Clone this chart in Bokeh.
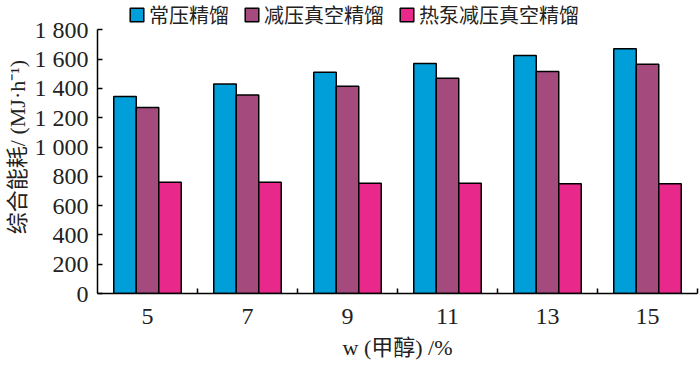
from bokeh.plotting import figure
from bokeh.models import (Range1d, LinearAxis, FixedTicker, ColumnDataSource, Legend, LegendItem)
from bokeh.transform import dodge
from bokeh.embed import file_html
from bokeh.resources import INLINE

# ---- data ----
categories = ["5", "7", "9", "11", "13", "15"]
atmospheric = [1345, 1430, 1510, 1570, 1625, 1670]
vacuum = [1270, 1355, 1415, 1470, 1515, 1565]
heat_pump = [760, 760, 752, 752, 750, 750]
series_names = ["常压精馏", "减压真空精馏", "热泵减压真空精馏"]
y_ticks = [0, 200, 400, 600, 800, 1000, 1200, 1400, 1600, 1800]
y_tick_labels = ["0", "200", "400", "600", "800", "1 000", "1 200", "1 400", "1 600", "1 800"]
y_axis_max = 1800
x_title = "w (甲醇) /%"
y_title = "综合能耗/ (MJ·h⁻¹)"

colors = ["#009FD9", "#A44A7C", "#E8288A"]
SERIF = "Liberation Serif, Noto Sans CJK SC"
TXT = "#222222"

n = len(categories)
centers = [i + 0.5 for i in range(n)]
bounds = [i + 1 for i in range(n)]

src = ColumnDataSource(dict(x=centers, a=atmospheric, v=vacuum, h=heat_pump))

# extra head-room above the axis top leaves space for the legend inside the frame
p = figure(width=700, height=368, output_backend="svg", toolbar_location=None,
           x_range=Range1d(0, n), y_range=Range1d(0, 2000), x_axis_location=None,
           min_border_left=97, min_border_right=3, min_border_top=0, min_border_bottom=75)

bw = 0.225
renderers = []
for field, off, col in zip(["a", "v", "h"], [-bw, 0, bw], colors):
    r = p.vbar(x=dodge("x", off), top=field, width=bw, source=src,
               fill_color=col, line_color="black", line_width=1.5)
    renderers.append(r)

p.xgrid.visible = False
p.ygrid.visible = False
p.outline_line_color = None
p.background_fill_color = "white"
p.border_fill_color = "white"

# y axis
ya = p.yaxis[0]
ya.bounds = (0, y_axis_max)
ya.ticker = FixedTicker(ticks=y_ticks)
ya.major_label_overrides = {t: l for t, l in zip(y_ticks, y_tick_labels)}
ya.major_tick_in = 5
ya.major_tick_out = 0
ya.minor_tick_line_color = None
ya.axis_line_color = "black"
ya.axis_line_width = 1.5
ya.major_tick_line_width = 1.5
ya.major_label_text_font = "Liberation Serif"
ya.major_label_text_font_size = "24px"
ya.major_label_text_color = TXT
ya.major_label_standoff = 9
ya.axis_label = y_title
ya.axis_label_text_font = SERIF
ya.axis_label_text_font_size = "22px"
ya.axis_label_text_font_style = "normal"
ya.axis_label_standoff = 2
ya.axis_label_text_color = TXT

# x axis: labels at group centres, inward minor ticks at group boundaries
xa = LinearAxis(ticker=FixedTicker(ticks=centers, minor_ticks=bounds),
                major_label_overrides={c: l for c, l in zip(centers, categories)},
                axis_line_color="black", axis_line_width=1.5,
                major_tick_line_color=None, major_tick_in=0, major_tick_out=0,
                minor_tick_line_color="black", minor_tick_line_width=1.5,
                minor_tick_in=5, minor_tick_out=0,
                major_label_text_font="Liberation Serif",
                major_label_text_font_size="24px", major_label_standoff=15,
                major_label_text_color=TXT,
                axis_label=x_title, axis_label_text_font=SERIF,
                axis_label_text_font_size="22px", axis_label_text_font_style="normal",
                axis_label_standoff=8, axis_label_text_color=TXT)
p.add_layout(xa, "below")

legend = Legend(items=[LegendItem(label=s, renderers=[r]) for s, r in zip(series_names, renderers)],
                orientation="horizontal", location=(31, 264),
                glyph_width=17, glyph_height=17, label_standoff=4, spacing=14,
                label_height=17,
                padding=0, margin=0, border_line_color=None, background_fill_alpha=0,
                label_text_font="Noto Sans CJK SC", label_text_font_size="20px",
                label_text_color=TXT)
p.add_layout(legend, "center")

open("out.html", "w").write(file_html(p, INLINE))
